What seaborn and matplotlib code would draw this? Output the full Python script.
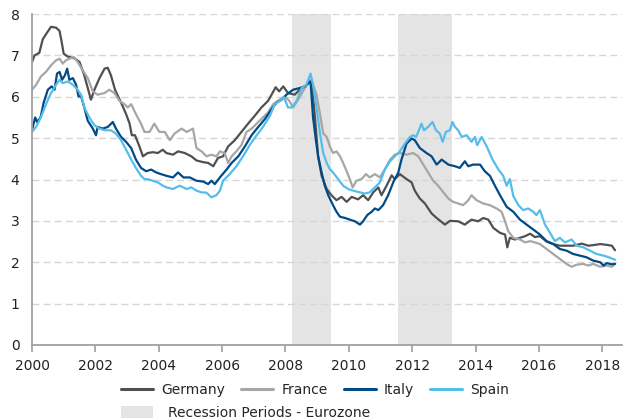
import pandas as pd
import matplotlib.pyplot as plt
import matplotlib.patches as mpatches
from matplotlib.lines import Line2D
import seaborn as sns

# datos (anio decimal, valor)
germany_t = [2000.0, 2000.08, 2000.23, 2000.34, 2000.44, 2000.6, 2000.76, 2000.87, 2000.94, 2001.0,
             2001.13, 2001.34, 2001.5, 2001.65, 2001.76, 2001.86, 2001.97, 2002.13, 2002.29, 2002.39,
             2002.49, 2002.62, 2002.81, 2002.97, 2003.08, 2003.15, 2003.25, 2003.39, 2003.5, 2003.65,
             2003.81, 2003.97, 2004.13, 2004.24, 2004.45, 2004.61, 2004.82, 2005.03, 2005.19, 2005.4,
             2005.56, 2005.72, 2005.87, 2006.03, 2006.19, 2006.4, 2006.61, 2006.82, 2007.03, 2007.24,
             2007.45, 2007.56, 2007.69, 2007.8, 2007.93, 2008.08, 2008.29, 2008.45, 2008.61, 2008.75,
             2008.82, 2008.93, 2009.03, 2009.14, 2009.3, 2009.45, 2009.61, 2009.77, 2009.93, 2010.09,
             2010.29, 2010.45, 2010.61, 2010.77, 2010.93, 2011.03, 2011.19, 2011.35, 2011.45, 2011.61,
             2011.82, 2011.98, 2012.08, 2012.24, 2012.4, 2012.61, 2012.77, 2013.03, 2013.19, 2013.45,
             2013.66, 2013.87, 2014.08, 2014.24, 2014.4, 2014.56, 2014.77, 2014.93, 2015.0, 2015.08,
             2015.24, 2015.4, 2015.56, 2015.72, 2015.87, 2016.03, 2016.24, 2016.45, 2016.66, 2016.87,
             2017.08, 2017.35, 2017.56, 2017.77, 2017.93, 2018.14, 2018.3, 2018.4]
germany_v = [6.84, 7.0, 7.06, 7.39, 7.51, 7.69, 7.67, 7.59, 7.31, 7.04,
             6.97, 6.93, 6.84, 6.52, 6.21, 5.93, 6.17, 6.45, 6.68, 6.7,
             6.52, 6.17, 5.86, 5.58, 5.35, 5.07, 5.07, 4.8, 4.56, 4.64,
             4.66, 4.64, 4.72, 4.64, 4.6, 4.68, 4.64, 4.56, 4.46, 4.42,
             4.4, 4.32, 4.52, 4.56, 4.8, 4.95, 5.15, 5.35, 5.54, 5.74,
             5.9, 6.05, 6.23, 6.13, 6.25, 6.09, 6.05, 6.17, 6.25, 6.35,
             6.4, 5.5, 4.56, 4.09, 3.77, 3.62, 3.5, 3.58, 3.46, 3.58,
             3.52, 3.62, 3.5, 3.69, 3.81, 3.62, 3.85, 4.1, 4.01, 4.13,
             4.01, 3.93, 3.73, 3.54, 3.42, 3.18, 3.07, 2.91, 3.0, 2.99,
             2.91, 3.03, 2.99, 3.07, 3.03, 2.83, 2.71, 2.67, 2.36, 2.59,
             2.55, 2.59, 2.63, 2.69, 2.61, 2.63, 2.5, 2.44, 2.4, 2.4,
             2.4, 2.45, 2.4, 2.42, 2.44, 2.42, 2.4, 2.29]

france_t = [2000.0, 2000.13, 2000.28, 2000.44, 2000.6, 2000.76, 2000.87, 2000.97, 2001.07, 2001.18,
            2001.32, 2001.44, 2001.6, 2001.76, 2001.92, 2002.07, 2002.29, 2002.44, 2002.6, 2002.76,
            2002.92, 2003.02, 2003.13, 2003.28, 2003.44, 2003.55, 2003.71, 2003.86, 2004.02, 2004.19,
            2004.35, 2004.5, 2004.72, 2004.88, 2005.08, 2005.19, 2005.35, 2005.51, 2005.66, 2005.82,
            2005.93, 2006.08, 2006.19, 2006.3, 2006.45, 2006.61, 2006.77, 2006.93, 2007.09, 2007.29,
            2007.45, 2007.61, 2007.82, 2007.98, 2008.12, 2008.24, 2008.4, 2008.61, 2008.77, 2008.87,
            2008.98, 2009.09, 2009.19, 2009.3, 2009.4, 2009.5, 2009.61, 2009.72, 2009.82, 2009.93,
            2010.03, 2010.12, 2010.24, 2010.4, 2010.54, 2010.66, 2010.82, 2010.98, 2011.14, 2011.3,
            2011.45, 2011.61, 2011.82, 2012.03, 2012.19, 2012.35, 2012.5, 2012.66, 2012.82, 2012.98,
            2013.14, 2013.29, 2013.45, 2013.61, 2013.77, 2013.87, 2014.03, 2014.24, 2014.45, 2014.66,
            2014.82, 2014.93, 2015.03, 2015.19, 2015.4, 2015.56, 2015.72, 2015.87, 2016.03, 2016.24,
            2016.45, 2016.66, 2016.87, 2017.03, 2017.19, 2017.4, 2017.56, 2017.71, 2017.93, 2018.14,
            2018.3, 2018.4]
france_v = [6.17, 6.29, 6.49, 6.6, 6.76, 6.88, 6.92, 6.8, 6.88, 6.92,
            6.96, 6.84, 6.64, 6.45, 6.13, 6.05, 6.09, 6.17, 6.09, 5.9,
            5.82, 5.74, 5.82, 5.58, 5.35, 5.15, 5.15, 5.35, 5.15, 5.15,
            4.95, 5.11, 5.23, 5.15, 5.23, 4.76, 4.68, 4.56, 4.6, 4.56,
            4.68, 4.64, 4.4, 4.56, 4.68, 4.83, 5.15, 5.23, 5.35, 5.5,
            5.62, 5.82, 5.93, 6.01, 5.9, 5.74, 5.93, 6.21, 6.4, 6.29,
            6.05, 5.58, 5.11, 5.03, 4.8, 4.64, 4.68, 4.56, 4.4, 4.2,
            4.01, 3.81, 3.97, 4.01, 4.13, 4.05, 4.13, 4.05, 4.25, 4.48,
            4.6, 4.64, 4.6, 4.64, 4.56, 4.36, 4.17, 3.97, 3.85, 3.69,
            3.54, 3.46, 3.42, 3.38, 3.5, 3.62, 3.5, 3.42, 3.38, 3.3,
            3.22, 2.99, 2.75, 2.59, 2.55, 2.48, 2.51, 2.48, 2.44, 2.32,
            2.2, 2.08, 1.96, 1.89, 1.94, 1.96, 1.92, 1.96, 1.89, 1.92,
            1.89, 1.96]

italy_t = [2000.0, 2000.1, 2000.16, 2000.27, 2000.37, 2000.5, 2000.62, 2000.71, 2000.79, 2000.87,
           2000.95, 2001.04, 2001.11, 2001.18, 2001.29, 2001.39, 2001.47, 2001.55, 2001.65, 2001.76,
           2001.92, 2002.02, 2002.07, 2002.23, 2002.39, 2002.55, 2002.65, 2002.81, 2002.97, 2003.13,
           2003.28, 2003.44, 2003.6, 2003.76, 2003.92, 2004.07, 2004.24, 2004.45, 2004.61, 2004.78,
           2004.98, 2005.19, 2005.4, 2005.56, 2005.66, 2005.77, 2005.93, 2006.14, 2006.3, 2006.51,
           2006.72, 2006.93, 2007.14, 2007.35, 2007.56, 2007.72, 2007.88, 2008.03, 2008.24, 2008.45,
           2008.61, 2008.79, 2008.87, 2008.96, 2009.03, 2009.14, 2009.24, 2009.35, 2009.5, 2009.61,
           2009.72, 2009.88, 2010.03, 2010.19, 2010.35, 2010.45, 2010.58, 2010.72, 2010.82, 2010.93,
           2011.08, 2011.24, 2011.4, 2011.56, 2011.66, 2011.82, 2011.98, 2012.08, 2012.24, 2012.45,
           2012.61, 2012.77, 2012.93, 2013.14, 2013.35, 2013.5, 2013.66, 2013.77, 2013.92, 2014.14,
           2014.29, 2014.45, 2014.61, 2014.77, 2014.98, 2015.19, 2015.4, 2015.61, 2015.82, 2016.03,
           2016.24, 2016.45, 2016.66, 2016.87, 2017.08, 2017.29, 2017.5, 2017.71, 2017.93, 2018.04,
           2018.14, 2018.3, 2018.4]
italy_v = [5.19, 5.5, 5.39, 5.5, 5.86, 6.17, 6.25, 6.17, 6.56, 6.6,
           6.41, 6.52, 6.68, 6.41, 6.45, 6.29, 6.01, 6.01, 5.74, 5.42,
           5.23, 5.07, 5.27, 5.23, 5.27, 5.39, 5.23, 5.03, 4.91, 4.76,
           4.48, 4.28, 4.2, 4.24, 4.17, 4.13, 4.09, 4.05, 4.17, 4.05,
           4.05, 3.97, 3.95, 3.89, 3.97, 3.89, 4.05, 4.24, 4.4, 4.56,
           4.8, 5.07, 5.27, 5.46, 5.7, 5.86, 5.93, 6.05, 6.17, 6.21,
           6.25, 6.37, 5.5, 4.95, 4.56, 4.17, 3.85, 3.62, 3.38, 3.22,
           3.1, 3.07, 3.03, 2.99, 2.91, 2.99, 3.14, 3.22, 3.3, 3.26,
           3.38, 3.62, 3.93, 4.17, 4.48, 4.87, 4.99, 4.95, 4.76, 4.64,
           4.56, 4.36, 4.48, 4.36, 4.32, 4.28, 4.44, 4.32, 4.36, 4.36,
           4.2, 4.09, 3.85, 3.62, 3.34, 3.22, 3.03, 2.91, 2.79, 2.67,
           2.51, 2.44, 2.32, 2.28, 2.2, 2.16, 2.12, 2.04, 2.0, 1.92,
           1.98, 1.95, 1.96]

spain_t = [2000.0, 2000.13, 2000.28, 2000.44, 2000.6, 2000.76, 2000.87, 2000.97, 2001.13, 2001.29,
           2001.44, 2001.55, 2001.65, 2001.81, 2001.97, 2002.13, 2002.29, 2002.49, 2002.65, 2002.81,
           2002.97, 2003.13, 2003.28, 2003.44, 2003.55, 2003.65, 2003.81, 2003.97, 2004.13, 2004.24,
           2004.45, 2004.66, 2004.88, 2005.03, 2005.19, 2005.35, 2005.51, 2005.66, 2005.82, 2005.93,
           2006.03, 2006.24, 2006.45, 2006.66, 2006.87, 2007.09, 2007.29, 2007.51, 2007.66, 2007.82,
           2007.95, 2008.08, 2008.19, 2008.35, 2008.51, 2008.66, 2008.79, 2008.87, 2008.98, 2009.09,
           2009.19, 2009.3, 2009.4, 2009.5, 2009.66, 2009.82, 2009.98, 2010.14, 2010.35, 2010.5,
           2010.66, 2010.82, 2010.98, 2011.14, 2011.3, 2011.45, 2011.61, 2011.77, 2011.93, 2012.03,
           2012.12, 2012.19, 2012.29, 2012.37, 2012.5, 2012.64, 2012.75, 2012.87, 2012.96, 2013.06,
           2013.19, 2013.27, 2013.35, 2013.45, 2013.56, 2013.72, 2013.87, 2013.98, 2014.05, 2014.19,
           2014.35, 2014.51, 2014.71, 2014.87, 2014.98, 2015.08, 2015.19, 2015.35, 2015.5, 2015.66,
           2015.82, 2015.92, 2016.03, 2016.19, 2016.35, 2016.5, 2016.66, 2016.82, 2017.03, 2017.19,
           2017.4, 2017.61, 2017.82, 2018.04, 2018.24, 2018.4]
spain_v = [5.15, 5.27, 5.5, 5.82, 6.09, 6.29, 6.41, 6.33, 6.37, 6.29,
           6.17, 6.05, 5.74, 5.5, 5.31, 5.23, 5.19, 5.19, 5.11, 4.95,
           4.72, 4.48, 4.28, 4.09, 4.01, 4.01, 3.97, 3.93, 3.85, 3.81,
           3.77, 3.85, 3.77, 3.81, 3.73, 3.69, 3.68, 3.57, 3.62, 3.73,
           3.97, 4.13, 4.32, 4.56, 4.83, 5.07, 5.27, 5.54, 5.82, 5.9,
           5.99, 5.74, 5.74, 5.9, 6.21, 6.29, 6.56, 6.29, 5.74, 5.11,
           4.64, 4.4, 4.25, 4.17, 4.01, 3.85, 3.77, 3.73, 3.69, 3.66,
           3.69, 3.81, 3.93, 4.25, 4.44, 4.56, 4.68, 4.87, 5.03, 5.07,
           5.03, 5.15, 5.35, 5.19, 5.27, 5.39, 5.19, 5.11, 4.91, 5.15,
           5.19, 5.39, 5.27, 5.19, 5.03, 5.07, 4.91, 5.03, 4.83, 5.03,
           4.8, 4.52, 4.25, 4.09, 3.85, 4.01, 3.6, 3.38, 3.26, 3.3,
           3.22, 3.14, 3.26, 2.91, 2.71, 2.51, 2.59, 2.48, 2.55, 2.4,
           2.36, 2.28, 2.2, 2.16, 2.11, 2.06]

recession_start = [2008.19, 2011.56]
recession_end = [2009.45, 2013.27]

countries = ['Germany', 'France', 'Italy', 'Spain']
colors = {'Germany': '#505050', 'France': '#a6a6a6', 'Italy': '#004a86', 'Spain': '#55bdea'}
series = {'Germany': (germany_t, germany_v), 'France': (france_t, france_v),
          'Italy': (italy_t, italy_v), 'Spain': (spain_t, spain_v)}

frames = []
for c in countries:
    t, v = series[c]
    assert len(t) == len(v), c
    frames.append(pd.DataFrame({'year': t, 'rate': v, 'country': c}))
df = pd.concat(frames, ignore_index=True)

sns.set_style('white')
plt.rcParams['font.family'] = ['DejaVu Sans']

fig, ax = plt.subplots(figsize=(6.24, 4.2), dpi=100)
fig.subplots_adjust(left=32 / 624, right=622 / 624, top=1 - 14 / 420, bottom=1 - 345 / 420)

for s, e in zip(recession_start, recession_end):
    ax.axvspan(s, e, color='#e4e4e4', lw=0, zorder=0.2)

sns.lineplot(data=df, x='year', y='rate', hue='country', hue_order=countries,
             palette=colors, linewidth=1.6, legend=False, ax=ax, zorder=2)

ax.set_xlim(2000, 2018.62)
ax.set_ylim(0, 8)
ax.set_xticks(range(2000, 2019, 2))
ax.set_yticks(range(0, 9))
ax.set_xlabel('')
ax.set_ylabel('')
ax.grid(axis='y', color='#d6d6d6', linestyle=(0, (5, 3)), linewidth=1, zorder=0.5)
ax.grid(axis='x', visible=False)
for side in ['top', 'right']:
    ax.spines[side].set_visible(False)
for side in ['left', 'bottom']:
    ax.spines[side].set_color('#a0a0a0')
    ax.spines[side].set_linewidth(1.3)
ax.tick_params(axis='x', length=5, width=1.2, color='#a0a0a0', pad=5, labelsize=10, labelcolor='#222222', bottom=True)
ax.tick_params(axis='y', length=0, pad=9, labelsize=10, labelcolor='#222222')

handles = [Line2D([], [], color=colors[c], lw=2.2) for c in countries]
fig.legend(handles, countries, loc='center left', bbox_to_anchor=(121 / 624, 1 - 390 / 420),
           ncol=4, frameon=False, fontsize=10, borderpad=0, borderaxespad=0, handlelength=2.3,
           handletextpad=0.6, columnspacing=1.15)
patch = mpatches.Patch(color='#e4e4e4', lw=0)
fig.legend([patch], ['Recession Periods - Eurozone'], loc='center left',
           bbox_to_anchor=(121 / 624, 1 - 413 / 420), frameon=False, fontsize=10,
           borderpad=0, borderaxespad=0, handlelength=2.3, handleheight=0.9, handletextpad=1.1)

fig.savefig('out.png', dpi=100)
